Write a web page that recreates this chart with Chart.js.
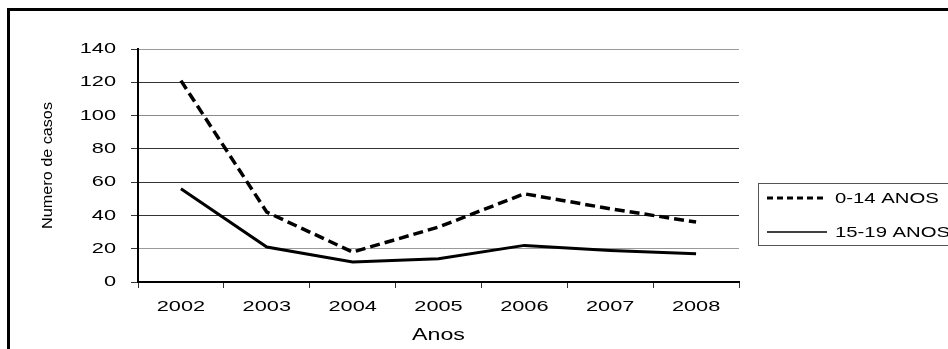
<!DOCTYPE html>
<html>
<head>
<meta charset="utf-8">
<script src="https://cdn.jsdelivr.net/npm/chart.js@4/dist/chart.umd.min.js"></script>
<style>
html,body{margin:0;padding:0;background:#fff;overflow:hidden;width:948px;height:349px;}
#frame{position:absolute;left:7px;top:8px;width:1100px;height:500px;border-left:3px solid #000;border-top:3px solid #000;box-sizing:border-box;}
#c{position:absolute;left:0;top:0;}
</style>
</head>
<body>
<canvas id="c" width="1000" height="349"></canvas>
<div id="frame"></div>
<script>
const years = ['2002','2003','2004','2005','2006','2007','2008'];
const kids = [121, 42, 18, 33, 53, 44, 36];
const teens = [56, 21, 12, 14, 22, 19, 17];
const yTicks = [0, 20, 40, 60, 80, 100, 120, 140];
const seriesLabels = ['0-14 ANOS', '15-19 ANOS'];
const gridColors = ['#000', '#9a9a9a', '#333', '#333', '#333', '#8a8a8a', '#333', '#9a9a9a'];
const FONT = '"Liberation Sans", Arial, sans-serif';
const SX_H = 1.45;  // horizontal widening of the text as seen in the reference
const SX_V = 1.08;  // widening of the rotated axis title along its reading direction

const stretchPlugin = {
  id: 'stretchText',
  beforeInit(chart) {
    const ctx = chart.ctx;
    const orig = ctx.fillText.bind(ctx);
    ctx.fillText = function (text, x, y, maxWidth) {
      const m = ctx.getTransform();
      const sx = Math.abs(m.b) > 1e-6 ? SX_V : SX_H;
      ctx.save();
      ctx.translate(x, y);
      ctx.scale(sx, 1);
      if (maxWidth !== undefined && maxWidth !== null) orig(text, 0, 0, maxWidth / sx);
      else orig(text, 0, 0);
      ctx.restore();
    };
  }
};

const legendPlugin = {
  id: 'boxLegend',
  afterDraw(chart) {
    const ctx = chart.ctx;
    ctx.save();
    ctx.strokeStyle = '#555';
    ctx.lineWidth = 1;
    ctx.strokeRect(758.5, 183.5, 240, 62);
    chart.data.datasets.forEach((ds, i) => {
      const y = 198 + i * 34;
      ctx.beginPath();
      ctx.setLineDash(ds.legendDash || []);
      ctx.lineWidth = ds.legendWidth;
      ctx.strokeStyle = ds.borderColor;
      ctx.moveTo(767, y);
      ctx.lineTo(827, y);
      ctx.stroke();
      ctx.setLineDash([]);
      ctx.fillStyle = '#000';
      ctx.font = '14px ' + FONT;
      ctx.textBaseline = 'middle';
      ctx.textAlign = 'left';
      ctx.fillText(ds.label, 835, y + 1);
    });
    ctx.restore();
  }
};

new Chart(document.getElementById('c'), {
  type: 'line',
  data: {
    labels: years,
    datasets: [
      { label: seriesLabels[0], data: kids, borderColor: '#000', borderWidth: 3.5, borderDash: [10, 5],
        pointRadius: 0, tension: 0, fill: false, legendDash: [6, 4], legendWidth: 3 },
      { label: seriesLabels[1], data: teens, borderColor: '#000', borderWidth: 3, pointRadius: 0,
        tension: 0, fill: false, legendWidth: 1.5 }
    ]
  },
  options: {
    responsive: false,
    animation: false,
    devicePixelRatio: 1,
    layout: { padding: { left: 0, right: 261, top: 49, bottom: 0 } },
    plugins: { legend: { display: false }, tooltip: { enabled: false } },
    scales: {
      x: {
        offset: true,
        afterFit(s) { s.height = 67; },
        grid: {
          offset: true,
          drawOnChartArea: true,
          color: (c) => c.index === years.length ? '#9a9a9a' : 'rgba(0,0,0,0)',
          lineWidth: (c) => c.index === years.length ? 2 : 1,
          tickColor: '#333',
          tickLength: 6
        },
        border: { display: true, color: '#000', width: 2 },
        ticks: { color: '#000', font: { family: FONT, size: 15 }, padding: 10, maxRotation: 0, autoSkip: false },
        title: { display: true, text: 'Anos', color: '#000', font: { family: FONT, size: 16 }, padding: { top: 0, bottom: 4 } }
      },
      y: {
        min: 0, max: 140,
        afterFit(s) { s.width = 138; },
        afterBuildTicks(s) { s.ticks = yTicks.map(v => ({ value: v })); },
        grid: {
          color: (c) => gridColors[c.index] || '#999',
          lineWidth: 1,
          tickColor: '#333',
          tickLength: 7
        },
        border: { display: true, color: '#000', width: 2 },
        ticks: { color: '#000', font: { family: FONT, size: 15 }, padding: 15 },
        title: { display: true, text: 'Numero de casos', color: '#000', font: { family: FONT, size: 15 }, padding: { top: 39, bottom: 0 } }
      }
    }
  },
  plugins: [stretchPlugin, legendPlugin]
});
</script>
</body>
</html>
